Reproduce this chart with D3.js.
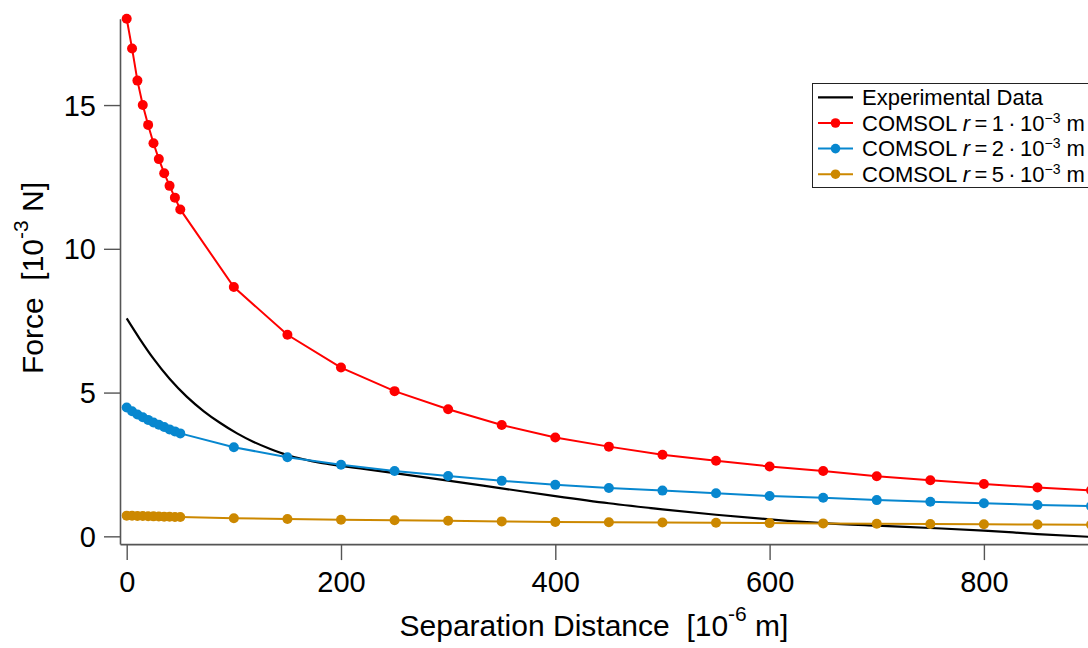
<!DOCTYPE html>
<html>
<head>
<meta charset="utf-8">
<script src="https://cdn.jsdelivr.net/npm/d3@7"></script>
<style>
  html, body { margin: 0; padding: 0; background: #fff; }
  svg { display: block; font-family: "Liberation Sans", Arial, Helvetica, sans-serif; }
  svg text { white-space: pre; }
</style>
</head>
<body>
<svg id="chart" width="1088" height="648"></svg>
<script>
// Separation distance samples (10^-6 m) for the COMSOL runs
const simX = [0, 5, 10, 15, 20, 25, 30, 35, 40, 45, 50,
  100, 150, 200, 250, 300, 350, 400, 450, 500, 550, 600, 650, 700, 750, 800, 850, 900];

// COMSOL force (10^-3 N) for r = 1e-3 m
const forceR1 = [18.0, 16.97, 15.85, 15.0, 14.31, 13.67, 13.12, 12.63, 12.19, 11.78, 11.37,
  8.67, 7.01, 5.87, 5.05, 4.42, 3.87, 3.44, 3.12, 2.84, 2.63, 2.43, 2.27, 2.09, 1.95, 1.82, 1.70, 1.60];
// COMSOL force for r = 2e-3 m
const forceR2 = [4.48, 4.35, 4.24, 4.14, 4.05, 3.96, 3.88, 3.80, 3.72, 3.65, 3.58,
  3.10, 2.75, 2.49, 2.27, 2.10, 1.93, 1.79, 1.68, 1.59, 1.50, 1.40, 1.34, 1.26, 1.20, 1.15, 1.09, 1.05];
// COMSOL force for r = 5e-3 m
const forceR5 = [0.72, 0.715, 0.71, 0.705, 0.70, 0.695, 0.69, 0.685, 0.68, 0.675, 0.67,
  0.63, 0.60, 0.58, 0.56, 0.54, 0.52, 0.50, 0.49, 0.48, 0.47, 0.46, 0.45, 0.44, 0.43, 0.42, 0.41, 0.40];

// Measured force curve
const expX = [0, 12, 25, 40, 56, 72, 87, 103, 118, 134, 149, 165, 180, 200, 218, 250,
  300, 350, 400, 450, 500, 550, 600, 650, 700, 750, 800, 850, 900];
const expF = [7.58, 6.88, 6.18, 5.48, 4.86, 4.35, 3.95, 3.58, 3.29, 3.04, 2.84, 2.68, 2.56, 2.45, 2.36, 2.20,
  1.94, 1.67, 1.40, 1.15, 0.94, 0.75, 0.59, 0.46, 0.37, 0.29, 0.20, 0.08, -0.02];

const xTicks = [0, 200, 400, 600, 800];
const yTicks = [0, 5, 10, 15];

const series = [
  { name: "r1", radius: "1", values: forceR1, color: "#ff0000" },
  { name: "r2", radius: "2", values: forceR2, color: "#0787cf" },
  { name: "r5", radius: "5", values: forceR5, color: "#cc8800" }
];

const svg = d3.select("#chart");
const x = d3.scaleLinear().domain([-6.25, 900]).range([120, 1091.05]);
const y = d3.scaleLinear().domain([-0.27, 18.0]).range([544.1, 18.8]);

const axisColor = "#555";
const tickFont = 29;

// x axis
const gx = svg.append("g").attr("transform", `translate(0,${y(-0.27)})`)
  .call(d3.axisBottom(x).tickValues(xTicks).tickSize(16).tickSizeOuter(0).tickFormat(d3.format("d")));
gx.select(".domain").attr("stroke", axisColor).attr("stroke-width", 1.6);
gx.selectAll(".tick line").attr("stroke", axisColor).attr("stroke-width", 1.4);
gx.selectAll(".tick text").attr("font-size", tickFont).attr("font-family", null)
  .attr("fill", "#000").attr("y", 48).attr("dy", 0);

// y axis
const gy = svg.append("g").attr("transform", `translate(${x(-6.25)},0)`)
  .call(d3.axisLeft(y).tickValues(yTicks).tickSize(16).tickSizeOuter(0).tickFormat(d3.format("d")));
gy.select(".domain").attr("stroke", axisColor).attr("stroke-width", 1.6);
gy.selectAll(".tick line").attr("stroke", axisColor).attr("stroke-width", 1.4);
gy.selectAll(".tick text").attr("font-size", tickFont).attr("font-family", null)
  .attr("fill", "#000").attr("x", -24).attr("dy", "0.35em");

// axis titles
const xt = svg.append("text").attr("x", 594).attr("y", 636)
  .attr("text-anchor", "middle").attr("font-size", 30).attr("fill", "#000");
xt.append("tspan").text("Separation Distance  [10");
xt.append("tspan").attr("font-size", 21).attr("dy", -15).text("-6");
xt.append("tspan").attr("dy", 15).text(" m]");

const yt = svg.append("text").attr("transform", "translate(43,278) rotate(-90)")
  .attr("text-anchor", "middle").attr("font-size", 30).attr("fill", "#000");
yt.append("tspan").text("Force  [10");
yt.append("tspan").attr("font-size", 21).attr("dy", -15).text("-3");
yt.append("tspan").attr("dy", 15).text(" N]");

// plot content clipped to the plot area
svg.append("clipPath").attr("id", "plotclip").append("rect")
  .attr("x", 121).attr("y", 0).attr("width", 1000).attr("height", 543);
const plot = svg.append("g").attr("clip-path", "url(#plotclip)");

// experimental curve
const expLine = d3.line().x((d, i) => x(expX[i])).y(d => y(d)).curve(d3.curveMonotoneX);
plot.append("path").datum(expF).attr("d", expLine)
  .attr("fill", "none").attr("stroke", "#000").attr("stroke-width", 2.2);

// simulation series: lines with markers
const simLine = d3.line().x((d, i) => x(simX[i])).y(d => y(d));
series.forEach(s => {
  const g = plot.append("g");
  g.append("path").datum(s.values).attr("d", simLine)
    .attr("fill", "none").attr("stroke", s.color).attr("stroke-width", 2);
  g.selectAll("circle").data(s.values).join("circle")
    .attr("cx", (d, i) => x(simX[i])).attr("cy", d => y(d)).attr("r", 5)
    .attr("fill", s.color);
});

// legend
const legend = svg.append("g");
legend.append("rect").attr("x", 812.5).attr("y", 83.5).attr("width", 300).attr("height", 104)
  .attr("fill", "#fff").attr("stroke", "#222").attr("stroke-width", 1);
const rowY = [97.3, 123, 148.6, 174.2];
const lx0 = 818, lx1 = 853, tx = 862;

legend.append("line").attr("x1", lx0).attr("x2", lx1).attr("y1", rowY[0]).attr("y2", rowY[0])
  .attr("stroke", "#000").attr("stroke-width", 2.2);
legend.append("text").attr("x", tx).attr("y", rowY[0] + 7.7).attr("font-size", 22)
  .attr("fill", "#000").text("Experimental Data");

series.forEach((s, i) => {
  const cy = rowY[i + 1];
  legend.append("line").attr("x1", lx0).attr("x2", lx1).attr("y1", cy).attr("y2", cy)
    .attr("stroke", s.color).attr("stroke-width", 2);
  legend.append("circle").attr("cx", (lx0 + lx1) / 2).attr("cy", cy).attr("r", 4.8).attr("fill", s.color);
  const t = legend.append("text").attr("x", tx).attr("y", cy + 7.7).attr("font-size", 22).attr("fill", "#000");
  t.append("tspan").text("COMSOL ");
  t.append("tspan").attr("font-style", "italic").text("r");
  t.append("tspan").text("\u2009=\u2009" + s.radius + "\u2009\u00B7\u200910");
  t.append("tspan").attr("font-size", 14).attr("dy", -8).text("\u22123");
  t.append("tspan").attr("dy", 8).text(" m");
});
</script>
</body>
</html>
